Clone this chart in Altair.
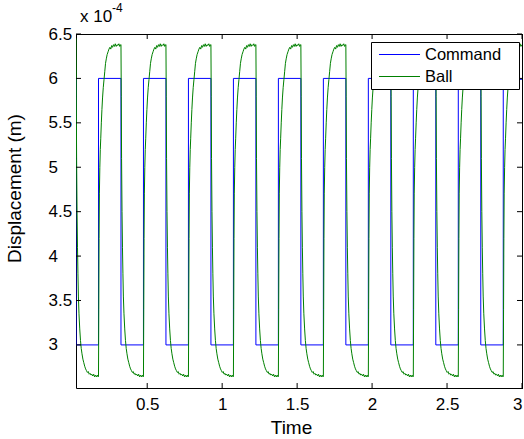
import altair as alt
import pandas as pd

FONT = "Liberation Sans, Arial, Helvetica, sans-serif"

# ---------------- data (displacement in units of 1e-4 m) ----------------
t_start, t_end = 0.025, 3.0
cmd_initial = 6.0
cmd_low = 3.0
cmd_fall_times = [0.025, 0.325, 0.625, 0.925, 1.225, 1.525, 1.825, 2.125, 2.425, 2.725]
cmd_rise_times = [0.175, 0.475, 0.775, 1.075, 1.375, 1.675, 1.975, 2.275, 2.575, 2.875]
cmd_high_levels = [6.0, 6.0, 6.0, 6.0, 6.0, 6.0, 6.0, 6.0, 6.0, 5.99]

# ball response (time after a command edge, value)
ball_first_value = 6.45
fall_dt = [0, 0.002, 0.004, 0.007, 0.010, 0.013, 0.016, 0.020, 0.025, 0.030,
           0.035, 0.040, 0.046, 0.052, 0.058, 0.064, 0.070, 0.076, 0.082, 0.088,
           0.094, 0.100, 0.106, 0.112, 0.118, 0.124, 0.130, 0.136, 0.142, 0.148]
fall_vals = [6.38, 5.8, 5.1, 4.5, 4.1, 3.8, 3.55, 3.35, 3.18, 3.05,
             2.96, 2.9, 2.84, 2.8, 2.76, 2.73, 2.71, 2.69, 2.70, 2.67,
             2.68, 2.66, 2.67, 2.65, 2.67, 2.64, 2.66, 2.64, 2.66, 2.64]
rise_dt = [0, 0.002, 0.004, 0.006, 0.009, 0.012, 0.015, 0.019, 0.023, 0.027,
           0.032, 0.037, 0.042, 0.047, 0.052, 0.058, 0.064, 0.070, 0.076, 0.082,
           0.088, 0.094, 0.100, 0.106, 0.112, 0.118, 0.124, 0.130, 0.136, 0.142, 0.148]
rise_vals = [2.65, 3.4, 4.2, 4.7, 5.0, 5.2, 5.32, 5.5, 5.65, 5.78,
             5.9, 5.99, 6.08, 6.17, 6.22, 6.27, 6.30, 6.33, 6.35, 6.33,
             6.37, 6.35, 6.38, 6.36, 6.39, 6.36, 6.38, 6.37, 6.39, 6.36, 6.38]

x_tick_values = [0.5, 1.0, 1.5, 2.0, 2.5, 3.0]
y_tick_values = [3.0, 3.5, 4.0, 4.5, 5.0, 5.5, 6.0, 6.5]
x_domain = [0.025, 3.0]
y_domain = [2.515, 6.5]

# ---------------- build tables ----------------
cmd_rows = [(t_start, cmd_initial)]
level = cmd_initial
for f, r, h in zip(cmd_fall_times, cmd_rise_times, cmd_high_levels):
    cmd_rows += [(f, level), (f, cmd_low), (r, cmd_low), (r, h)]
    level = h
cmd_rows.append((t_end, level))
cmd_df = pd.DataFrame(cmd_rows, columns=["t", "v"])
cmd_df["i"] = range(len(cmd_df))

ball_rows = []
for k, (f, r) in enumerate(zip(cmd_fall_times, cmd_rise_times)):
    for j, (dt, v) in enumerate(zip(fall_dt, fall_vals)):
        ball_rows.append((f + dt, ball_first_value if (k == 0 and j == 0) else v))
    for dt, v in zip(rise_dt, rise_vals):
        if r + dt <= t_end + 1e-9:
            ball_rows.append((r + dt, v))
ball_df = pd.DataFrame(ball_rows, columns=["t", "v"])
ball_df["i"] = range(len(ball_df))

one = pd.DataFrame({"k": [0]})

W, H = 446, 354
xs = alt.Scale(domain=x_domain, nice=False, zero=False)
ys = alt.Scale(domain=y_domain, nice=False, zero=False)

x_axis = alt.Axis(values=x_tick_values, format="~g", title="Time", grid=False,
                  ticks=False, domain=True, domainColor="black", domainWidth=1,
                  labelFont=FONT, labelFontSize=17, labelColor="black",
                  labelPadding=8, labelFlush=True, labelOverlap=False,
                  titleFont=FONT, titleFontSize=19, titleFontWeight="normal",
                  titleColor="black", titleX=215, titleY=45,
                  titleAlign="center", titleBaseline="alphabetic")
y_axis = alt.Axis(values=y_tick_values, format="~g", title="Displacement (m)", grid=False,
                  ticks=False, domain=True, domainColor="black", domainWidth=1,
                  labelFont=FONT, labelFontSize=17, labelColor="black",
                  labelAlign="left", labelBaseline="middle", labelPadding=28,
                  labelOverlap=False, labelFlush=False,
                  titleFont=FONT, titleFontSize=19, titleFontWeight="normal",
                  titleColor="black", titleAngle=270, titleX=-62, titleY=154,
                  titleAlign="center", titleBaseline="middle")

cmd_line = alt.Chart(cmd_df).mark_line(color="#0000ff", strokeWidth=1, clip=True).encode(
    x=alt.X("t:Q", scale=xs, axis=x_axis),
    y=alt.Y("v:Q", scale=ys, axis=y_axis),
    order=alt.Order("i:Q"),
)
ball_line = alt.Chart(ball_df).mark_line(color="#008000", strokeWidth=1, clip=True).encode(
    x=alt.X("t:Q", scale=xs),
    y=alt.Y("v:Q", scale=ys),
    order=alt.Order("i:Q"),
)

xt_df = pd.DataFrame({"t": x_tick_values})
yt_df = pd.DataFrame({"v": y_tick_values})
tick_bottom = alt.Chart(xt_df).mark_rule(color="black", strokeWidth=1).encode(
    x=alt.X("t:Q", scale=xs), y=alt.value(H), y2=alt.value(H - 5))
tick_top = alt.Chart(xt_df).mark_rule(color="black", strokeWidth=1).encode(
    x=alt.X("t:Q", scale=xs), y=alt.value(0), y2=alt.value(5))
tick_left = alt.Chart(yt_df).mark_rule(color="black", strokeWidth=1).encode(
    y=alt.Y("v:Q", scale=ys), x=alt.value(0), x2=alt.value(5))
tick_right = alt.Chart(yt_df).mark_rule(color="black", strokeWidth=1).encode(
    y=alt.Y("v:Q", scale=ys), x=alt.value(W), x2=alt.value(W - 5))

box_top = alt.Chart(one).mark_rule(color="black", strokeWidth=1).encode(
    x=alt.value(0), x2=alt.value(W + 1), y=alt.value(0.5))
box_right = alt.Chart(one).mark_rule(color="black", strokeWidth=1).encode(
    x=alt.value(W + 0.5), y=alt.value(0), y2=alt.value(H + 1))

leg_box = alt.Chart(one).mark_rect(fill="white", stroke="black", strokeWidth=1).encode(
    x=alt.value(295.5), x2=alt.value(443.5), y=alt.value(8.5), y2=alt.value(55.5))
leg_cmd = alt.Chart(one).mark_rule(color="#0000ff", strokeWidth=1).encode(
    x=alt.value(303), x2=alt.value(344), y=alt.value(20.5))
leg_ball = alt.Chart(one).mark_rule(color="#008000", strokeWidth=1).encode(
    x=alt.value(303), x2=alt.value(344), y=alt.value(42.5))
leg_t1 = alt.Chart(one).mark_text(align="left", baseline="middle", font=FONT,
                                  fontSize=16.5, color="black").encode(
    x=alt.value(349), y=alt.value(21), text=alt.value("Command"))
leg_t2 = alt.Chart(one).mark_text(align="left", baseline="middle", font=FONT,
                                  fontSize=16.5, color="black").encode(
    x=alt.value(349), y=alt.value(43), text=alt.value("Ball"))

exp1 = alt.Chart(one).mark_text(align="left", baseline="alphabetic", font=FONT,
                                fontSize=17, color="black").encode(
    x=alt.value(4), y=alt.value(-12), text=alt.value("x 10"))
exp2 = alt.Chart(one).mark_text(align="left", baseline="alphabetic", font=FONT,
                                fontSize=12, color="black").encode(
    x=alt.value(36), y=alt.value(-22), text=alt.value("-4"))

chart = alt.layer(
    cmd_line, ball_line, tick_bottom, tick_top, tick_left, tick_right,
    box_top, box_right, leg_box, leg_cmd, leg_ball, leg_t1, leg_t2, exp1, exp2,
).properties(
    width=W, height=H,
    padding={"left": 76, "top": 34, "right": 2, "bottom": 51},
    autosize=alt.AutoSizeParams(type="none"),
    background="white",
).configure_view(stroke=None)

chart.save("out.html", embed_options={"renderer": "svg", "actions": False})
